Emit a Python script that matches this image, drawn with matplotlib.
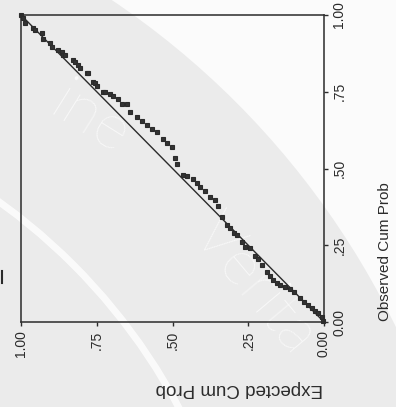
import matplotlib
matplotlib.use("Agg")
import matplotlib.pyplot as plt
from matplotlib.patches import Wedge, Arc
from matplotlib.lines import Line2D

# P-P plot points (picture is turned 90 degrees)
expected = [1.000, 0.993, 0.987, 0.960, 0.954, 0.931, 0.927, 0.904, 0.898, 0.878,
            0.865, 0.861, 0.855, 0.828, 0.822, 0.812, 0.805, 0.782, 0.779, 0.762,
            0.756, 0.749, 0.729, 0.723, 0.706, 0.696, 0.680, 0.667, 0.650, 0.640,
            0.617, 0.601, 0.584, 0.568, 0.551, 0.531, 0.518, 0.502, 0.492, 0.485,
            0.465, 0.452, 0.432, 0.419, 0.409, 0.393, 0.376, 0.360, 0.350, 0.337,
            0.320, 0.310, 0.297, 0.287, 0.271, 0.261, 0.244, 0.228, 0.218, 0.205,
            0.188, 0.178, 0.168, 0.155, 0.145, 0.129, 0.112, 0.099, 0.079, 0.066,
            0.053, 0.040, 0.030, 0.020, 0.007, 0.003]
observed = [1.000, 0.990, 0.974, 0.958, 0.951, 0.941, 0.922, 0.909, 0.896, 0.886,
            0.879, 0.870, 0.870, 0.853, 0.847, 0.837, 0.827, 0.811, 0.811, 0.782,
            0.779, 0.769, 0.749, 0.749, 0.743, 0.736, 0.726, 0.710, 0.710, 0.684,
            0.668, 0.655, 0.642, 0.629, 0.619, 0.596, 0.583, 0.570, 0.534, 0.515,
            0.479, 0.476, 0.466, 0.453, 0.440, 0.427, 0.407, 0.397, 0.378, 0.342,
            0.316, 0.306, 0.290, 0.283, 0.261, 0.244, 0.241, 0.215, 0.205, 0.186,
            0.163, 0.150, 0.137, 0.127, 0.121, 0.114, 0.107, 0.098, 0.078, 0.065,
            0.055, 0.046, 0.036, 0.029, 0.016, 0.003]
diag = [0, 1]
ticks = [0, 0.25, 0.5, 0.75, 1.0]
tick_labels = ["0.00", ".25", ".50", ".75", "1.00"]

plt.rcParams["font.family"] = ["Liberation Sans", "DejaVu Sans"]
ink = "#2b2b2b"

fig = plt.figure(figsize=(3.96, 4.07), dpi=100, facecolor="#ebebeb")

# background watermark of the scanned page
bg = fig.add_axes([0, 0, 1, 1], zorder=0)
bg.set_xlim(0, 396)
bg.set_ylim(407, 0)
bg.axis("off")
bg.add_patch(Wedge((-351, 689), 2200, 0, 360, width=2200 - 830, color="#fbfbfb", lw=0))
bg.add_patch(Arc((-351, 689), 1200, 1200, theta1=270, theta2=360, color="white", lw=5, alpha=0.8))
bg.text(90, 120, "ine", fontsize=46, color="white", alpha=0.8, rotation=-32,
        ha="center", va="center", family="Lato", weight="light")
bg.text(255, 285, "Verita", fontsize=46, color="white", alpha=0.8, rotation=-50,
        ha="center", va="center", family="Lato", weight="light")
bg.add_line(Line2D([1.5, 1.5], [271, 283], color=ink, lw=1.5))

ax = fig.add_axes([21 / 396, (407 - 322) / 407, 303 / 396, 307 / 407], zorder=1)
ax.set_facecolor("none")

ax.plot(diag, diag, color=ink, lw=1.0)
ax.plot(expected, observed, "s", ms=3.5, mfc="#333333", mec=ink, mew=0.8,
        ls="none", clip_on=False)

ax.set_xlim(1, 0)
ax.set_ylim(0, 1)
ax.yaxis.tick_right()
ax.set_xticks(ticks)
ax.set_xticklabels(tick_labels, rotation=90, fontsize=10, va="top")
ax.set_yticks(ticks)
ax.set_yticklabels(tick_labels, rotation=90, fontsize=10, va="center")
ax.tick_params(direction="out", length=3, width=1, colors=ink, pad=3)
for sp in ax.spines.values():
    sp.set_linewidth(1.1)
    sp.set_color(ink)

fig.text(239 / 396, 1 - 388 / 407, "Expected Cum Prob", rotation=180,
         ha="center", va="center", fontsize=13.5, color=ink)
fig.text(385 / 396, 1 - 252 / 407, "Observed Cum Prob", rotation=90,
         ha="center", va="center", fontsize=11, color=ink)

fig.savefig("out.png", dpi=100, facecolor=fig.get_facecolor())
